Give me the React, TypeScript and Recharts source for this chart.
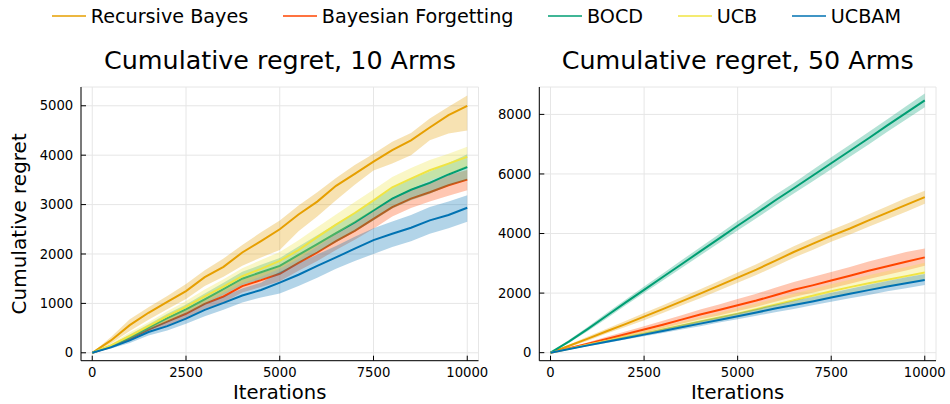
import React from 'react';
import { ComposedChart, Line, Area, XAxis, YAxis, CartesianGrid } from 'recharts';

const ITER = [0, 500, 1000, 1500, 2000, 2500, 3000, 3500, 4000, 4500, 5000, 5500, 6000, 6500, 7000, 7500, 8000, 8500, 9000, 9500, 10000];

const SERIES_NAMES = ['Recursive Bayes', 'Bayesian Forgetting', 'BOCD', 'UCB', 'UCBAM'];
const SERIES_KEYS = ['rb', 'bf', 'bocd', 'ucb', 'ucbam'];
const SERIES_COLORS = ['#E69F00', '#FF4500', '#009E73', '#F0E442', '#0072B2'];

const X_TICKS = [0, 2500, 5000, 7500, 10000];
const Y_TICKS_10 = [0, 1000, 2000, 3000, 4000, 5000];
const Y_TICKS_50 = [0, 2000, 4000, 6000, 8000];

// ---- 10 arms ----
const A10_RB = [0, 250, 560, 810, 1030, 1250, 1530, 1740, 2030, 2260, 2500, 2800, 3060, 3380, 3620, 3870, 4100, 4300, 4560, 4810, 5000];
const A10_RB_HI = [0, 320, 680, 920, 1150, 1390, 1670, 1910, 2180, 2440, 2680, 2980, 3250, 3540, 3800, 4030, 4270, 4450, 4740, 4980, 5210];
const A10_RB_LO = [0, 190, 440, 670, 880, 1090, 1350, 1540, 1760, 1930, 2080, 2460, 2760, 3090, 3400, 3690, 3830, 4000, 4300, 4440, 4500];

const A10_BF = [0, 125, 285, 470, 630, 790, 990, 1140, 1350, 1470, 1600, 1820, 2030, 2260, 2470, 2710, 2950, 3120, 3250, 3390, 3505];
const A10_BF_HI = [0, 150, 335, 540, 710, 890, 1100, 1260, 1480, 1610, 1750, 1980, 2200, 2440, 2650, 2900, 3140, 3320, 3460, 3600, 3700];
const A10_BF_LO = [0, 100, 240, 410, 550, 700, 890, 1020, 1220, 1330, 1450, 1660, 1860, 2080, 2290, 2510, 2760, 2930, 3060, 3180, 3290];

const A10_BOCD = [0, 140, 315, 510, 700, 880, 1080, 1290, 1500, 1630, 1760, 1980, 2200, 2420, 2640, 2880, 3120, 3300, 3440, 3610, 3760];
const A10_BOCD_HI = [0, 170, 370, 580, 790, 980, 1200, 1420, 1640, 1780, 1920, 2150, 2380, 2610, 2830, 3080, 3330, 3520, 3670, 3840, 4020];
const A10_BOCD_LO = [0, 110, 265, 450, 620, 790, 980, 1170, 1370, 1490, 1610, 1820, 2030, 2240, 2450, 2680, 2920, 3090, 3220, 3380, 3500];

const A10_UCB = [0, 150, 340, 540, 740, 930, 1140, 1340, 1550, 1700, 1860, 2080, 2340, 2595, 2830, 3085, 3350, 3525, 3695, 3830, 3965];
const A10_UCB_HI = [0, 190, 410, 620, 840, 1050, 1280, 1490, 1710, 1880, 2040, 2280, 2540, 2800, 3050, 3300, 3560, 3740, 3900, 4030, 4170];
const A10_UCB_LO = [0, 115, 280, 470, 650, 830, 1020, 1210, 1410, 1540, 1700, 1900, 2150, 2400, 2640, 2890, 3150, 3320, 3490, 3630, 3770];

const A10_UCBAM = [0, 110, 250, 420, 540, 690, 870, 1010, 1160, 1270, 1420, 1580, 1760, 1930, 2110, 2280, 2410, 2530, 2680, 2790, 2935];
const A10_UCBAM_HI = [0, 140, 300, 490, 630, 790, 990, 1140, 1300, 1420, 1640, 1810, 1990, 2160, 2350, 2520, 2660, 2790, 2950, 3060, 3190];
const A10_UCBAM_LO = [0, 85, 200, 350, 450, 590, 740, 870, 1020, 1120, 1200, 1350, 1520, 1700, 1860, 2000, 2140, 2260, 2410, 2520, 2650];

// ---- 50 arms ----
const A50_RB = [0, 230, 470, 720, 960, 1210, 1460, 1720, 1980, 2250, 2520, 2790, 3080, 3380, 3650, 3920, 4170, 4440, 4700, 4960, 5220];
const A50_RB_HI = [0, 270, 540, 800, 1060, 1330, 1590, 1860, 2130, 2410, 2690, 2970, 3270, 3570, 3850, 4120, 4370, 4650, 4920, 5190, 5440];
const A50_RB_LO = [0, 190, 400, 640, 860, 1090, 1330, 1580, 1830, 2090, 2350, 2610, 2890, 3190, 3450, 3720, 3970, 4230, 4480, 4730, 5000];

const A50_BF = [0, 150, 300, 460, 620, 780, 940, 1110, 1280, 1430, 1590, 1750, 1930, 2110, 2260, 2420, 2580, 2750, 2900, 3050, 3200];
const A50_BF_HI = [0, 175, 350, 530, 710, 890, 1070, 1260, 1450, 1620, 1800, 1980, 2180, 2370, 2540, 2710, 2880, 3060, 3220, 3380, 3500];
const A50_BF_LO = [0, 125, 255, 400, 540, 680, 820, 970, 1120, 1250, 1400, 1540, 1710, 1870, 2010, 2160, 2310, 2470, 2620, 2760, 2920];

const A50_BOCD = [0, 380, 800, 1240, 1680, 2110, 2540, 2970, 3400, 3830, 4260, 4680, 5110, 5520, 5940, 6360, 6780, 7200, 7630, 8050, 8470];
const A50_BOCD_HI = [0, 430, 870, 1330, 1780, 2220, 2660, 3100, 3540, 3980, 4420, 4850, 5290, 5700, 6130, 6560, 6980, 7410, 7840, 8270, 8700];
const A50_BOCD_LO = [0, 330, 730, 1150, 1580, 2000, 2420, 2840, 3260, 3680, 4100, 4510, 4930, 5340, 5750, 6160, 6580, 6990, 7420, 7830, 8240];

const A50_UCB = [0, 130, 265, 395, 525, 645, 780, 910, 1050, 1180, 1310, 1460, 1610, 1760, 1910, 2060, 2200, 2330, 2450, 2570, 2690];
const A50_UCB_HI = [0, 150, 300, 450, 600, 740, 890, 1040, 1190, 1340, 1490, 1650, 1810, 1980, 2140, 2300, 2450, 2600, 2740, 2880, 3020];
const A50_UCB_LO = [0, 115, 235, 350, 470, 580, 700, 820, 940, 1060, 1180, 1310, 1450, 1590, 1720, 1860, 1990, 2110, 2220, 2330, 2440];

const A50_UCBAM = [0, 120, 245, 365, 485, 605, 725, 850, 975, 1100, 1220, 1350, 1480, 1600, 1720, 1850, 1980, 2100, 2220, 2330, 2440];
const A50_UCBAM_HI = [0, 140, 280, 410, 540, 670, 800, 935, 1070, 1200, 1330, 1470, 1610, 1740, 1870, 2010, 2150, 2280, 2410, 2530, 2640];
const A50_UCBAM_LO = [0, 105, 215, 325, 440, 550, 660, 775, 890, 1010, 1120, 1240, 1360, 1470, 1590, 1710, 1830, 1940, 2060, 2160, 2270];

function buildRows(means: number[][], his: number[][], los: number[][]) {
  return ITER.map((t, i) => {
    const row: any = { t };
    SERIES_KEYS.forEach((k, j) => {
      row[k] = means[j][i];
      row[k + '_band'] = [los[j][i], his[j][i]];
    });
    return row;
  });
}

const DATA_10 = buildRows(
  [A10_RB, A10_BF, A10_BOCD, A10_UCB, A10_UCBAM],
  [A10_RB_HI, A10_BF_HI, A10_BOCD_HI, A10_UCB_HI, A10_UCBAM_HI],
  [A10_RB_LO, A10_BF_LO, A10_BOCD_LO, A10_UCB_LO, A10_UCBAM_LO]
);
const DATA_50 = buildRows(
  [A50_RB, A50_BF, A50_BOCD, A50_UCB, A50_UCBAM],
  [A50_RB_HI, A50_BF_HI, A50_BOCD_HI, A50_UCB_HI, A50_UCBAM_HI],
  [A50_RB_LO, A50_BF_LO, A50_BOCD_LO, A50_UCB_LO, A50_UCBAM_LO]
);

const FONT = '"DejaVu Sans", Verdana, sans-serif';
const tickStyle = { fontSize: 13.2, fill: '#000', fontFamily: FONT };

function YLabel(props: any) {
  const vb = props.viewBox || {};
  const cx = vb.x + 26.5;
  const cy = vb.y + vb.height / 2;
  return (
    <text x={cx} y={cy} transform={`rotate(-90 ${cx} ${cy})`} textAnchor="middle" fontSize={20} fontFamily={FONT} fill="#000">
      Cumulative regret
    </text>
  );
}

function Panel(props: { data: any[]; margin: any; yWidth: number; yDomain: number[]; yTicks: number[]; yLabel: boolean }) {
  const { data, margin, yWidth, yDomain, yTicks, yLabel } = props;
  const items: any[] = [];
  SERIES_KEYS.forEach((k, j) => {
    items.push(
      <Area
        key={k + '_a'}
        dataKey={k + '_band'}
        type="linear"
        stroke="none"
        fill={SERIES_COLORS[j]}
        fillOpacity={0.3}
        isAnimationActive={false}
        dot={false}
        activeDot={false}
        legendType="none"
        zIndex={10 + j * 2}
      />
    );
    items.push(
      <Line
        key={k + '_l'}
        dataKey={k}
        name={SERIES_NAMES[j]}
        type="linear"
        stroke={SERIES_COLORS[j]}
        strokeWidth={2}
        dot={false}
        activeDot={false}
        isAnimationActive={false}
        zIndex={11 + j * 2}
      />
    );
  });
  return (
    <ComposedChart width={950} height={404} data={data} margin={margin}>
      <CartesianGrid stroke="#e6e6e6" strokeWidth={1} />
      <XAxis
        dataKey="t"
        type="number"
        domain={[-300, 10300]}
        ticks={X_TICKS}
        height={43.3}
        tick={tickStyle}
        tickSize={-5}
        tickMargin={11.6}
        axisLine={{ stroke: '#000', strokeWidth: 1 }}
        tickLine={{ stroke: '#000', strokeWidth: 1 }}
        interval={0}
        label={{ value: 'Iterations', position: 'insideBottom', offset: 4.6, fontSize: 19.6, fill: '#000', fontFamily: FONT }}
      />
      <YAxis
        type="number"
        domain={yDomain}
        ticks={yTicks}
        width={yWidth}
        tick={tickStyle}
        tickSize={-5}
        tickMargin={12.8}
        axisLine={{ stroke: '#000', strokeWidth: 1 }}
        tickLine={{ stroke: '#000', strokeWidth: 1 }}
        interval={0}
        allowDataOverflow
        label={yLabel ? { content: (p: any) => <YLabel {...p} /> } : undefined}
      />
      {items}
    </ComposedChart>
  );
}

function LegendRow() {
  return (
    <div
      style={{
        position: 'absolute',
        left: 51.7,
        top: 6.5,
        display: 'flex',
        alignItems: 'center',
        fontFamily: FONT,
        fontSize: 19.2,
        lineHeight: '19.2px',
        color: '#000',
        whiteSpace: 'nowrap',
      }}
    >
      {SERIES_NAMES.map((n, j) => (
        <div key={n} style={{ display: 'flex', alignItems: 'center', marginRight: j < SERIES_NAMES.length - 1 ? 34.5 : 0 }}>
          <svg width={34} height={4} style={{ marginRight: 5, position: 'relative', top: -0.5 }}>
            <line x1={0} y1={2} x2={34} y2={2} stroke={SERIES_COLORS[j]} strokeWidth={1.6} />
          </svg>
          <span>{n}</span>
        </div>
      ))}
    </div>
  );
}

const titleStyle: any = {
  position: 'absolute',
  top: 47.8,
  width: 420,
  textAlign: 'center',
  fontFamily: FONT,
  fontSize: 25.4,
  lineHeight: '25.4px',
  color: '#000',
  whiteSpace: 'nowrap',
};

export default function App() {
  return (
    <div style={{ position: 'absolute', left: 0, top: 0, width: 950, height: 404, background: '#fff', overflow: 'hidden' }}>
      <div style={{ position: 'absolute', left: 0, top: 0 }}>
        <Panel data={DATA_10} margin={{ top: 87, right: 471.5, bottom: 0, left: 0 }} yWidth={81} yDomain={[-160, 5380]} yTicks={Y_TICKS_10} yLabel={true} />
      </div>
      <div style={{ position: 'absolute', left: 0, top: 0 }}>
        <Panel data={DATA_50} margin={{ top: 87, right: 14, bottom: 0, left: 480 }} yWidth={59.3} yDomain={[-270, 8920]} yTicks={Y_TICKS_50} yLabel={false} />
      </div>
      <LegendRow />
      <div style={{ ...titleStyle, left: 280 - 210 }}>Cumulative regret, 10 Arms</div>
      <div style={{ ...titleStyle, left: 737.7 - 210 }}>Cumulative regret, 50 Arms</div>
    </div>
  );
}
